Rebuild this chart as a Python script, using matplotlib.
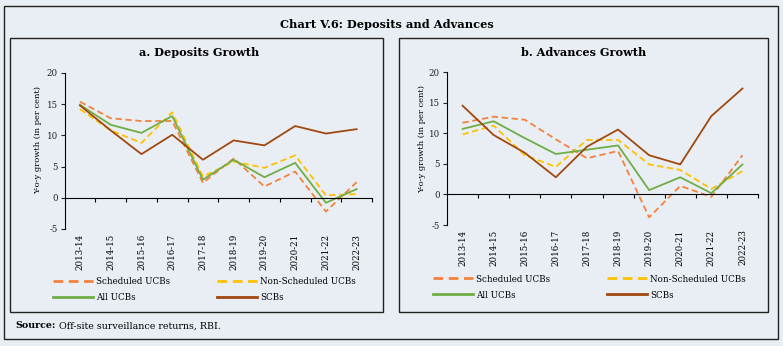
import numpy as np
import matplotlib.pyplot as plt
from matplotlib.patches import Rectangle
from matplotlib.lines import Line2D

years = ["2013-14", "2014-15", "2015-16", "2016-17", "2017-18",
         "2018-19", "2019-20", "2020-21", "2021-22", "2022-23"]

# a. Deposits growth (y-o-y, per cent)
dep_sched     = [15.4, 12.75, 12.3, 12.3, 2.4, 6.3, 1.8, 4.2, -2.2, 2.5]
dep_nonsched  = [14.2, 10.8, 8.8, 13.7, 3.4, 5.8, 4.8, 6.8, 0.4, 0.6]
dep_all       = [14.9, 11.7, 10.4, 13.1, 2.9, 6.1, 3.3, 5.6, -0.8, 1.4]
dep_scb       = [14.8, 10.8, 7.0, 10.1, 6.1, 9.2, 8.4, 11.5, 10.3, 11.0]

# b. Advances growth (y-o-y, per cent)
adv_sched     = [11.7, 12.7, 12.2, 9.0, 5.9, 7.1, -3.75, 1.4, -0.4, 6.4]
adv_nonsched  = [9.8, 11.25, 6.4, 4.5, 8.9, 8.9, 4.9, 4.0, 0.9, 3.8]
adv_all       = [10.7, 11.95, 9.2, 6.6, 7.3, 8.0, 0.7, 2.8, 0.2, 4.9]
adv_scb       = [14.5, 9.7, 6.8, 2.8, 7.8, 10.6, 6.4, 4.9, 12.8, 17.3]

series_names = ["Scheduled UCBs", "Non-Scheduled UCBs", "All UCBs", "SCBs"]

# styling
W, H      = 783, 346
bg        = "#E9EEF5"
colors    = ["#F4823C", "#FFC000", "#70AD47", "#A0480E"]
styles    = [(0, (3.5, 2)), (0, (3.5, 2)), "-", "-"]
lw        = 1.3
tick_fs   = 6.2
leg_fs    = 6.3

plt.rcParams['font.family'] = "DejaVu Serif"
plt.rcParams['axes.unicode_minus'] = False

fig = plt.figure(figsize=(W / 100, H / 100), dpi=100)
fig.patch.set_facecolor(bg)


def px_rect(x0, y0, x1, y1):
    # pixel box (top-left origin) -> figure fraction rect
    return [x0 / W, 1 - y1 / H, (x1 - x0) / W, (y1 - y0) / H]


def frame(x0, y0, x1, y1):
    r = Rectangle((x0 / W, 1 - y1 / H), (x1 - x0) / W, (y1 - y0) / H,
                  transform=fig.transFigure, fill=False, edgecolor="#222222", lw=1.0)
    fig.patches.append(r)


frame(4, 6, 778, 339)
frame(10, 38, 383, 312)
frame(399, 38, 768, 312)

fig.text(387 / W, 1 - 24 / H, "Chart V.6: Deposits and Advances", ha="center", va="center",
         fontsize=8.2, fontweight="bold")
fig.text(199 / W, 1 - 52 / H, "a. Deposits Growth", ha="center", va="center",
         fontsize=8.1, fontweight="bold")
fig.text(584 / W, 1 - 52 / H, "b. Advances Growth", ha="center", va="center",
         fontsize=8.1, fontweight="bold")
fig.text(15 / W, 1 - 326 / H, "Source:", ha="left", va="center", fontsize=6.8, fontweight="bold")
fig.text(59 / W, 1 - 326 / H, "Off-site surveillance returns, RBI.", ha="left", va="center",
         fontsize=6.8)


def panel(rect, data, ylab_x, ylab_y, leg_y, leg_x1, leg_x2):
    ax = fig.add_axes(rect)
    ax.set_facecolor("none")
    x = np.arange(len(years))
    for vals, c, ls in zip(data, colors, styles):
        ax.plot(x, vals, color=c, ls=ls, lw=lw)
    ax.set_xlim(-0.5, len(years) - 0.5)
    ax.set_ylim(-5, 20)
    ax.set_yticks([-5, 0, 5, 10, 15, 20])
    ax.tick_params(axis="y", labelsize=tick_fs, length=3, width=0.8, pad=2, colors="#222222")
    for s in ["top", "right"]:
        ax.spines[s].set_visible(False)
    ax.spines["left"].set_linewidth(0.8)
    ax.spines["bottom"].set_position(("data", 0))
    ax.spines["bottom"].set_linewidth(0.8)
    ax.set_xticks(np.arange(0.5, len(years)))
    ax.set_xticklabels([])
    ax.tick_params(axis="x", length=3, width=0.8, direction="out")
    for i, yr in enumerate(years):
        ax.text(i, -0.03, yr, rotation=90, ha="center", va="top", fontsize=tick_fs,
                transform=ax.get_xaxis_transform())
    fig.text(ylab_x / W, 1 - ylab_y / H, "Y-o-y growth (in per cent)",
             rotation=90, ha="center", va="center", fontsize=6.0)
    h = [Line2D([], [], color=c, ls=ls, lw=2) for c, ls in zip(colors, styles)]
    for idx, lx in ((0, leg_x1), (1, leg_x2)):
        fig.legend([h[idx], h[idx + 2]], [series_names[idx], series_names[idx + 2]],
                   loc="upper left", bbox_to_anchor=(lx / W, 1 - leg_y / H), frameon=False,
                   fontsize=leg_fs, handlelength=4.6, handletextpad=0.3, labelspacing=0.8,
                   borderpad=0, borderaxespad=0)
    return ax


panel(px_rect(64.6, 73, 372, 229), [dep_sched, dep_nonsched, dep_all, dep_scb],
      38, 140, 277.5, 53, 217)
panel(px_rect(447, 72, 758, 225), [adv_sched, adv_nonsched, adv_all, adv_scb],
      422, 139, 274.5, 433, 607)

fig.savefig("out.png", dpi=100, facecolor=bg)
